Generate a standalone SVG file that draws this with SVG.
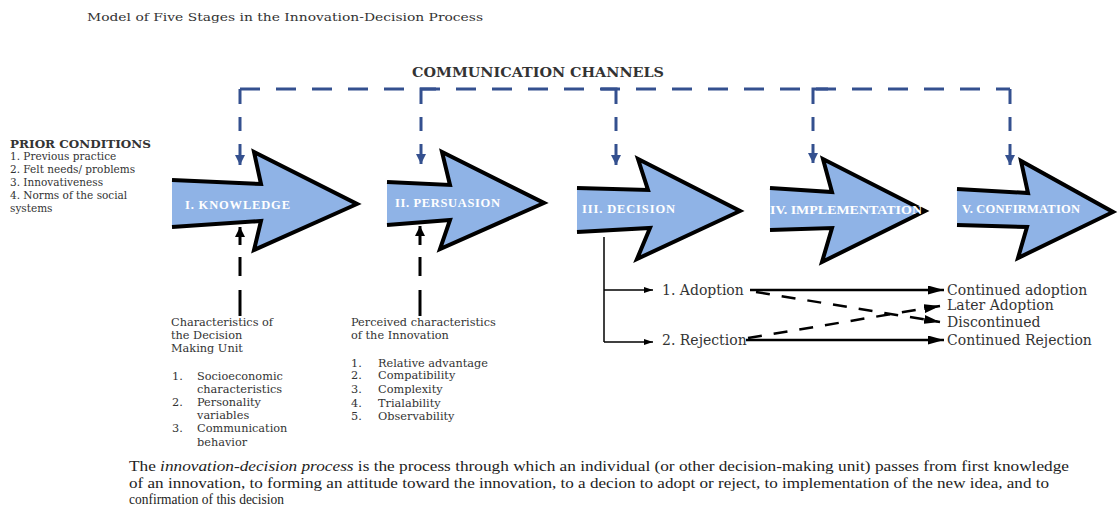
<svg xmlns="http://www.w3.org/2000/svg" width="1118" height="512" viewBox="0 0 1118 512">
<defs>
<style>
.t{font-family:"DejaVu Serif","Liberation Serif",serif;fill:#333;}
.s11{font-size:10.5px;}
.s14{font-size:14px;}
.b{font-weight:bold;}
.lab{font-family:"Liberation Serif",serif;font-weight:bold;font-size:12.5px;fill:#fff;}
.par{font-family:"Liberation Serif",serif;font-size:14px;fill:#222;}
.arr{fill:#8fb3e6;stroke:#000;stroke-width:4;stroke-linejoin:miter;}
.blue{stroke:#34508f;stroke-width:3;fill:none;}
.blk{stroke:#000;stroke-width:3;fill:none;}
.thin{stroke:#000;stroke-width:1.5;fill:none;}
.thick{stroke:#000;stroke-width:2.5;fill:none;}
</style>
<marker id="mb" viewBox="0 0 10 10" refX="10" refY="5" markerWidth="10" markerHeight="10" markerUnits="userSpaceOnUse" orient="auto"><path d="M0,0 L10,5 L0,10 Z" fill="#34508f"/></marker>
<marker id="mk" viewBox="0 0 10 10" refX="10" refY="5" markerWidth="10" markerHeight="10" markerUnits="userSpaceOnUse" orient="auto"><path d="M0,0 L10,5 L0,10 Z" fill="#000"/></marker>
<marker id="mL" viewBox="0 0 16 9" refX="16" refY="4.5" markerWidth="16" markerHeight="9" markerUnits="userSpaceOnUse" orient="auto"><path d="M0,0 L16,4.5 L0,9 Z" fill="#000"/></marker>
<marker id="ms" viewBox="0 0 9 6" refX="9" refY="3" markerWidth="9" markerHeight="6" markerUnits="userSpaceOnUse" orient="auto"><path d="M0,0 L9,3 L0,6 Z" fill="#000"/></marker>
</defs>
<rect width="1118" height="512" fill="#fff"/>

<text class="t" x="87" y="21" font-size="11.5" textLength="396" lengthAdjust="spacingAndGlyphs">Model of Five Stages in the Innovation-Decision Process</text>
<text class="t b" x="412" y="77" font-size="12.5" textLength="252" lengthAdjust="spacingAndGlyphs" font-family="Liberation Serif">COMMUNICATION CHANNELS</text>

<g id="prior">
<text class="t b" x="10" y="148" font-size="11" textLength="141" lengthAdjust="spacingAndGlyphs" font-family="Liberation Serif">PRIOR CONDITIONS</text>
<text class="t s11" x="10" y="160">1. Previous practice</text>
<text class="t s11" x="10" y="173">2. Felt needs/ problems</text>
<text class="t s11" x="10" y="186">3. Innovativeness</text>
<text class="t s11" x="10" y="199">4. Norms of the social</text>
<text class="t s11" x="10" y="212">systems</text>
</g>

<g id="knowledge">
<path class="arr" d="M172,180 L261,184 L254,152 L357,204 L254,250 L261,221 L172,227"/>
<text class="lab" x="185" y="209" textLength="105" lengthAdjust="spacing">I. KNOWLEDGE</text>
</g>
<g id="persuasion">
<path class="arr" d="M387,182 L450,185 L442,152 L544,203 L440,249 L450,220 L387,225"/>
<text class="lab" x="395" y="207" textLength="105" lengthAdjust="spacing">II. PERSUASION</text>
</g>
<g id="decision">
<path class="arr" d="M577,188 L648,190 L638,159 L740,211 L637,259 L650,228 L577,232"/>
<text class="lab" x="582" y="213" textLength="93" lengthAdjust="spacing">III. DECISION</text>
</g>
<g id="implementation">
<path class="arr" d="M770,188 L832,192 L823,159 L925,211 L822,262 L832,228 L770,230"/>
<text class="lab" x="770" y="214" textLength="152" lengthAdjust="spacingAndGlyphs">IV. IMPLEMENTATION</text>
</g>
<g id="confirmation">
<path class="arr" d="M957,189 L1028,193 L1021,161 L1113,212 L1018,258 L1027,227 L957,225"/>
<text class="lab" x="962" y="213" textLength="118" lengthAdjust="spacing">V. CONFIRMATION</text>
</g>

<g id="unit">
<text class="t" font-size="11.3" x="171" y="326">Characteristics of</text>
<text class="t" font-size="11.3" x="171" y="339">the Decision</text>
<text class="t" font-size="11.3" x="171" y="352">Making Unit</text>
<text class="t" font-size="11.3" x="172" y="380">1.</text><text class="t" font-size="11.3" x="197" y="380">Socioeconomic</text>
<text class="t" font-size="11.3" x="197" y="393">characteristics</text>
<text class="t" font-size="11.3" x="172" y="406">2.</text><text class="t" font-size="11.3" x="197" y="406">Personality</text>
<text class="t" font-size="11.3" x="197" y="419">variables</text>
<text class="t" font-size="11.3" x="172" y="432">3.</text><text class="t" font-size="11.3" x="197" y="432">Communication</text>
<text class="t" font-size="11.3" x="197" y="446">behavior</text>
</g>

<g id="innovation">
<text class="t" font-size="11.3" x="351" y="326">Perceived characteristics</text>
<text class="t" font-size="11.3" x="351" y="339">of the Innovation</text>
<text class="t" font-size="11.3" x="351" y="367">1.</text><text class="t" font-size="11.3" x="378" y="367">Relative advantage</text>
<text class="t" font-size="11.3" x="351" y="379">2.</text><text class="t" font-size="11.3" x="378" y="379">Compatibility</text>
<text class="t" font-size="11.3" x="351" y="393">3.</text><text class="t" font-size="11.3" x="378" y="393">Complexity</text>
<text class="t" font-size="11.3" x="351" y="407">4.</text><text class="t" font-size="11.3" x="378" y="407">Trialability</text>
<text class="t" font-size="11.3" x="351" y="420">5.</text><text class="t" font-size="11.3" x="378" y="420">Observability</text>
</g>

<g id="adoption"><text class="t s14" x="662" y="295">1. Adoption</text></g>
<g id="rejection"><text class="t s14" x="662" y="345">2. Rejection</text></g>
<g id="outcomes">
<text class="t s14" x="947" y="295">Continued adoption</text>
<text class="t s14" x="947" y="310">Later Adoption</text>
<text class="t s14" x="947" y="327">Discontinued</text>
<text class="t s14" x="947" y="345">Continued Rejection</text>
</g>

<g id="connectors">
<path class="blue" d="M240,89 H1010" stroke-dasharray="20 16"/>
<g class="blue">
<path d="M240,104 V89"/><path d="M240,117 V131"/><path d="M240,144 V165" marker-end="url(#mb)"/>
<path d="M421,104 V89 H436"/><path d="M421,117 V131"/><path d="M421,144 V164" marker-end="url(#mb)"/>
<path d="M616,104 V89 H601"/><path d="M616,117 V131"/><path d="M616,144 V165" marker-end="url(#mb)"/>
<path d="M813,104 V89 H828"/><path d="M813,117 V131"/><path d="M813,144 V163" marker-end="url(#mb)"/>
<path d="M1010,104 V89"/><path d="M1010,117 V131"/><path d="M1010,144 V165" marker-end="url(#mb)"/>
</g>
<g class="blk">
<path d="M240,245 V227" marker-end="url(#mk)"/><path d="M240,257 V276"/><path d="M240,290 V316"/>
<path d="M420,245 V226" marker-end="url(#mk)"/><path d="M420,257 V276"/><path d="M420,290 V316"/>
</g>
<path class="thin" d="M604,237 V342"/>
<path class="thin" d="M604,290 H653" marker-end="url(#ms)"/>
<path class="thin" d="M604,342 H653" marker-end="url(#ms)"/>
<path class="thick" d="M750,290 H944" marker-end="url(#mL)"/>
<path class="thick" d="M746,340 H944" marker-end="url(#mL)"/>
<path class="thick" d="M756,292 L940,322" stroke-dasharray="14 12" marker-end="url(#mL)"/>
<path class="thick" d="M748,338 L940,306" stroke-dasharray="14 12" marker-end="url(#mL)"/>
</g>

<g id="caption">
<text class="par" x="129" y="471" textLength="940" lengthAdjust="spacingAndGlyphs">The <tspan font-style="italic">innovation-decision process</tspan> is the process through which an individual (or other decision-making unit) passes from first knowledge</text>
<text class="par" x="129" y="488" textLength="920" lengthAdjust="spacingAndGlyphs">of an innovation, to forming an attitude toward the innovation, to a decion to adopt or reject, to implementation of the new idea, and to</text>
<text class="par" x="129" y="504" textLength="155" lengthAdjust="spacingAndGlyphs">confirmation of this decision</text>
</g>
</svg>
